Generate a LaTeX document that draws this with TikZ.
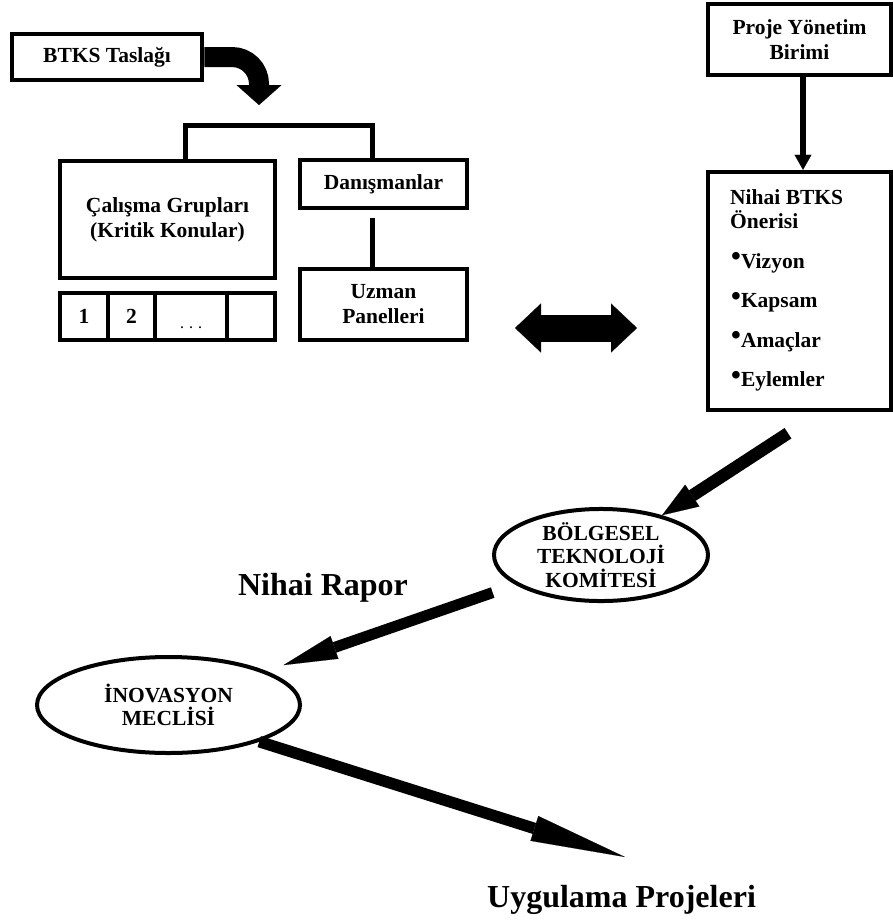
\documentclass[tikz,border=0pt]{standalone}
\usepackage{fontspec}
\setmainfont{Liberation Serif}
\usetikzlibrary{arrows.meta,shapes.geometric}

% yazi tipleri
\newcommand{\kutuyazi}{\fontsize{21.5}{25}\selectfont\bfseries}
\newcommand{\elipsyazi}{\fontsize{21.5}{23.5}\selectfont\bfseries}
\newcommand{\buyukyazi}{\fontsize{32}{36}\selectfont\bfseries}
\newcommand{\noktalar}{\raisebox{-12pt}[0pt][0pt]{\fontsize{12}{12}\selectfont .\hspace{6pt}.\hspace{6pt}.}}
\newcommand{\madde}{\raisebox{2.5pt}{\fontsize{28}{28}\selectfont\textbullet}}

\begin{document}
\begin{tikzpicture}[x=1pt,y=-1pt,
    kutu/.style={draw, line width=4.5pt, inner sep=0pt, align=center, font=\kutuyazi},
    elips/.style={draw, ellipse, line width=4pt, inner sep=0pt, align=center, font=\elipsyazi},
    cizgi/.style={line width=5pt},
    ince ok/.style={line width=5.5pt, -{Triangle[width=17pt,length=15pt,line width=0.1pt]}},
    kalin ok/.style n args={3}{line width=#1, -{Triangle[width=#2,length=#3,line width=0.1pt]}}]

    \useasboundingbox (0,0) rectangle (893,924);

    % ---- Sol blok ----
    \node[kutu, minimum width=190pt, minimum height=46pt] (taslak) at (107,57) {BTKS Taslağı};
    \node[kutu, minimum width=215pt, minimum height=117pt] (calisma) at (167.5,219.5) {Çalışma Grupları\\(Kritik Konular)};

    % Calisma gruplari hucreleri
    \foreach \x/\w/\t [count=\i] in {84/48pt/1, 131.5/47pt/2, 191/72pt/\noktalar, 251/48pt/{}}{
      \node[kutu, minimum width=\w, minimum height=47pt] (hucre\i) at (\x,316.5) {\t};
    }

    \node[kutu, minimum width=167pt, minimum height=48pt] (danis) at (383.5,184) {Danışmanlar};
    \node[kutu, minimum width=167pt, minimum height=71pt] (uzman) at (383.5,304.5) {Uzman\\Panelleri};

    % ---- Sag blok ----
    \node[kutu, minimum width=183pt, minimum height=71pt] (proje) at (799.5,39.5) {Proje Yönetim\\Birimi};
    \node[kutu, minimum width=183pt, minimum height=238pt] (nihai) at (799.5,291) {};
    \node[anchor=base west, font=\kutuyazi, inner sep=0pt] (oneri1) at (730,204) {Nihai BTKS};
    \node[anchor=base west, font=\kutuyazi, inner sep=0pt] (oneri2) at (730,228) {Önerisi};
    \foreach \lbl [count=\i] in {Vizyon, Kapsam, Amaçlar, Eylemler}{
      \pgfmathsetmacro{\yy}{268 + 39.6*(\i-1)}
      \node[anchor=base west, font=\kutuyazi, inner sep=0pt] (madde\i) at (731,\yy) {\madde\lbl};
    }

    % ---- Alt kisim ----
    \node[elips, minimum width=214pt, minimum height=92pt] (bolge) at (601,555) {BÖLGESEL\\TEKNOLOJİ\\KOMİTESİ};
    \node[elips, minimum width=263pt, minimum height=96pt] (inov) at (168.5,705) {İNOVASYON\\MECLİSİ};
    \node[font=\buyukyazi, anchor=base, inner sep=0pt] (rapor) at (323,595) {Nihai Rapor};
    \node[font=\buyukyazi, anchor=base west, inner sep=0pt] (uygulama) at (487,907) {Uygulama Projeleri};

    % ---- Baglantilar ----
    \coordinate (kirilma) at (0,125);
    \draw[cizgi] ([xshift=17.5pt]calisma.north) |- ([xshift=-11.5pt]danis.north |- kirilma) -- ([xshift=-11.5pt]danis.north);
    \draw[cizgi, shorten <=8pt] ([xshift=-11.5pt]danis.south) -- ([xshift=-11.5pt]uzman.north);
    \draw[ince ok] ([xshift=3.5pt]proje.south) -- ([xshift=3.5pt]nihai.north);

    % kivrik ok
    \draw[kalin ok={20pt}{45pt}{20pt}] (taslak.east) -- (232,57) .. controls (247,57) and (259,69) .. (259,84) -- (259,105);

    % cift yonlu ok
    \coordinate (ciftsol) at (515,328);
    \coordinate (ciftsag) at (637,328);
    \draw[line width=27pt, {Triangle[width=49pt,length=26pt,line width=0.1pt]}-{Triangle[width=49pt,length=26pt,line width=0.1pt]}] (ciftsol) -- (ciftsag);

    % kalin oklar
    \draw[kalin ok={12.5pt}{26pt}{36pt}] ([xshift=-11.5pt,yshift=-21pt]nihai.south) -- (bolge);
    \draw[kalin ok={11pt}{24pt}{54pt}, shorten <=24pt, shorten >=18pt] (bolge) -- (inov);
    \coordinate (uygucu) at (625,857);
    \draw[kalin ok={11.5pt}{26pt}{95pt}] (inov.-22) -- (uygucu);

\end{tikzpicture}
\end{document}
